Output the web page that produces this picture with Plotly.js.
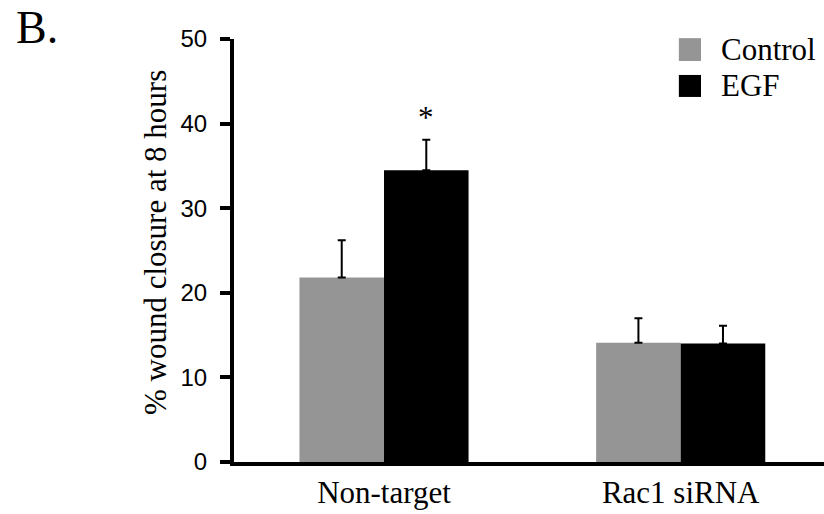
<!DOCTYPE html>
<html>
<head>
<meta charset="utf-8">
<script src="https://cdn.plot.ly/plotly-3.0.1.min.js"></script>
<style>html,body{margin:0;padding:0;background:#fff;}#chart{width:824px;height:514px;}</style>
</head>
<body>
<div id="chart"></div>
<script>
const categories = ["Non-target", "Rac1 siRNA"];
const seriesNames = ["Control", "EGF"];
const controlValues = [21.8, 14.1];
const controlErrors = [4.4, 2.9];
const egfValues = [34.5, 14.0];
const egfErrors = [3.6, 2.1];
const yTicks = [0, 10, 20, 30, 40, 50];
const colors = ["#959595", "#000000"];

const serif = "Liberation Serif";
const sans = "Liberation Sans";

function errBar(arr) {
  return {type: "data", symmetric: false, array: arr, arrayminus: arr.map(() => 0),
          color: "#000", thickness: 2, width: 4};
}

const traces = [
  {type: "bar", name: seriesNames[0], x: categories, y: controlValues,
   marker: {color: colors[0], line: {width: 0}}, error_y: errBar(controlErrors), hoverinfo: "none"},
  {type: "bar", name: seriesNames[1], x: categories, y: egfValues,
   marker: {color: colors[1], line: {width: 0}}, error_y: errBar(egfErrors), hoverinfo: "none"}
];

const bargap = 0.43;
const egfOffset = (1 - bargap) / 4;

const legendRows = [[0.948, 1.002, 0.975], [0.863, 0.915, 0.889]];
const shapes = seriesNames.map((n, i) => ({
  type: "rect", xref: "paper", yref: "paper",
  x0: 0.754, x1: 0.7915, y0: legendRows[i][0], y1: legendRows[i][1],
  fillcolor: colors[i], line: {width: 0}
}));

const annotations = seriesNames.map((n, i) => ({
  text: n, xref: "paper", yref: "paper", x: 0.8215, y: legendRows[i][2],
  xanchor: "left", yanchor: "middle", showarrow: false,
  font: {family: serif, size: 31, color: "#000"}
}));
annotations.push({
  text: "% wound closure at 8 hours", xref: "paper", yref: "paper",
  x: -0.1339, y: 0.52, textangle: -90, showarrow: false,
  xanchor: "center", yanchor: "middle",
  font: {family: serif, size: 31, color: "#000"}
});
annotations.push({
  text: "B.", xref: "paper", yref: "paper", x: -0.373, y: 1.092,
  xanchor: "left", yanchor: "top", showarrow: false,
  font: {family: serif, size: 46, color: "#000"}
});
annotations.push({
  text: "*", xref: "x", yref: "y", x: egfOffset, y: egfValues[0] + egfErrors[0],
  xanchor: "center", yanchor: "middle", yshift: 22, showarrow: false,
  font: {family: serif, size: 31, color: "#000"}
});

const layout = {
  width: 824, height: 514,
  margin: {l: 234, r: 0, t: 39, b: 52, pad: 0},
  paper_bgcolor: "#fff", plot_bgcolor: "#fff",
  showlegend: false,
  barmode: "group", bargap: bargap, bargroupgap: 0,
  xaxis: {
    range: [-0.5056, 1.483], showgrid: false, zeroline: false,
    showline: true, linewidth: 4, linecolor: "#000",
    ticks: "", ticklabelstandoff: 0, automargin: false,
    tickfont: {family: serif, size: 31, color: "#000"}
  },
  yaxis: {
    range: [0, 50], tickvals: yTicks, ticktext: yTicks.map(String),
    showgrid: false, zeroline: false,
    showline: true, linewidth: 4, linecolor: "#000",
    ticks: "outside", ticklen: 10, tickwidth: 4, tickcolor: "#000",
    ticklabelstandoff: 8, automargin: false,
    tickfont: {family: sans, size: 24, color: "#000"}
  },
  shapes: shapes,
  annotations: annotations
};

Plotly.newPlot("chart", traces, layout, {staticPlot: true, displayModeBar: false});
</script>
</body>
</html>
